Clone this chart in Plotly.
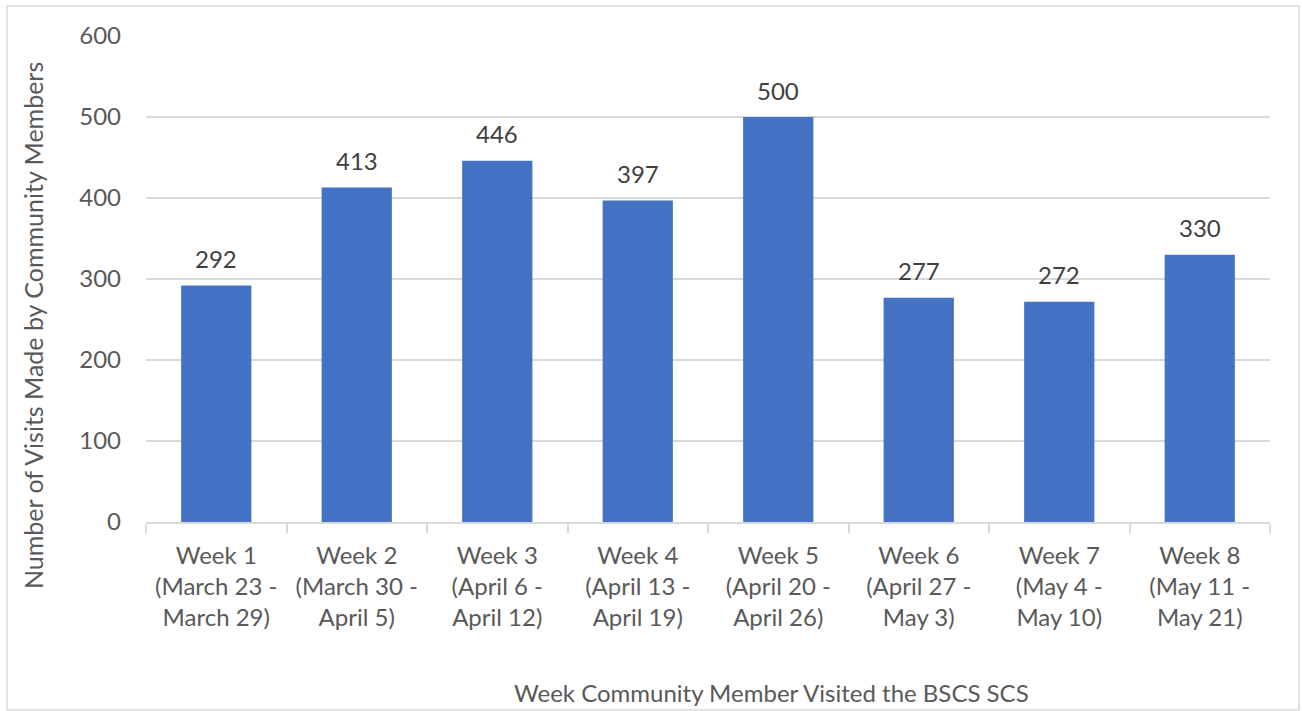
import plotly.graph_objects as go

weeks = ["Week 1", "Week 2", "Week 3", "Week 4", "Week 5", "Week 6", "Week 7", "Week 8"]
ranges_a = ["(March 23 -", "(March 30 -", "(April 6 -", "(April 13 -", "(April 20 -", "(April 27 -", "(May 4 -", "(May 11 -"]
ranges_b = ["March 29)", "April 5)", "April 12)", "April 19)", "April 26)", "May 3)", "May 10)", "May 21)"]
visits = [292, 413, 446, 397, 500, 277, 272, 330]
y_ticks = [0, 100, 200, 300, 400, 500, 600]

labels = [f"{w}<br>{a}<br>{b}" for w, a, b in zip(weeks, ranges_a, ranges_b)]

FONT = "Lato"
SIZE = 24
GREY = "#595959"

fig = go.Figure()
fig.add_trace(go.Bar(x=labels, y=visits, marker_color="#4472C4", marker_line_width=0))

for lab, v in zip(labels, visits):
    fig.add_annotation(x=lab, y=v, xref="x", yref="y", text=str(v), showarrow=False,
                       yshift=27, yanchor="middle", font=dict(family=FONT, size=SIZE, color="#404040"))

fig.add_annotation(x=0.5563, y=-0.3498, xref="paper", yref="paper", text="Week Community Member Visited the BSCS SCS",
                   showarrow=False, xanchor="center", yanchor="middle", font=dict(family=FONT, size=SIZE, color=GREY))
fig.add_annotation(x=-0.1006, y=0.405, xref="paper", yref="paper", text="Number of Visits Made by Community Members",
                   showarrow=False, textangle=-90, xanchor="center", yanchor="middle",
                   font=dict(family=FONT, size=SIZE + 1, color=GREY))

fig.add_shape(type="rect", xref="paper", yref="paper", x0=-0.1237, x1=1.0258, y0=-0.3868, y1=1.0617,
              line=dict(color="#d9d9d9", width=1.5), fillcolor="rgba(0,0,0,0)", layer="below")

fig.update_layout(
    width=1302, height=711,
    margin=dict(l=146, r=32, t=36, b=189),
    paper_bgcolor="white", plot_bgcolor="white",
    bargap=0.5, showlegend=False,
    font=dict(family=FONT, size=SIZE, color=GREY),
)
fig.update_xaxes(type="category", showline=True, linecolor="#d9d9d9", linewidth=1.5,
                 ticks="outside", tickson="boundaries", ticklen=9, tickcolor="#d9d9d9", tickwidth=1.5,
                 ticklabelstandoff=11,
                 tickfont=dict(family=FONT, size=SIZE, color=GREY), showgrid=False)
fig.update_yaxes(range=[0, 600], tickvals=y_ticks, showgrid=True, gridcolor="#d9d9d9", gridwidth=1.5,
                 zeroline=False, showline=False, ticklabelstandoff=24,
                 tickfont=dict(family=FONT, size=SIZE, color=GREY))

fig.write_html("out.html", config={"displayModeBar": False},
               post_script="document.body.style.margin='0';")
